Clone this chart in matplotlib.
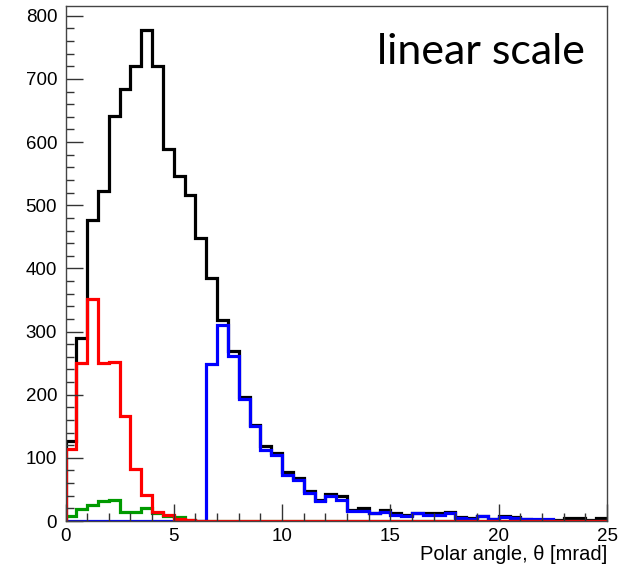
import numpy as np
import matplotlib
matplotlib.use("Agg")
import matplotlib.pyplot as plt
from matplotlib.ticker import MultipleLocator

# ---- data (bin contents, 0.5 mrad bins from 0 to 25 mrad) ----
bin_lo, bin_hi, bin_width = 0.0, 25.0, 0.5

total = [127, 290, 477, 523, 641, 684, 721, 778, 721, 589,
         547, 516, 448, 385, 319, 269, 197, 152, 118, 108,
         78, 68, 48, 33, 42, 40, 17, 20, 13, 17,
         12, 9, 13, 12, 12, 15, 6, 4, 8, 3,
         8, 7, 3, 2, 2, 1, 4, 4, 1, 4]

red = [114, 250, 352, 250, 252, 167, 82, 41, 14, 10,
       3, 1, 0, 0, 0, 0, 0, 0, 0, 0,
       0, 0, 0, 0, 0, 0, 0, 0, 0, 0,
       0, 0, 0, 0, 0, 0, 0, 0, 0, 0,
       0, 0, 0, 0, 0, 0, 0, 0, 0, 0]

green = [8, 19, 26, 31, 33, 15, 15, 21, 13, 8,
         7, 1, 0, 0, 0, 0, 0, 0, 0, 0,
         0, 0, 0, 0, 0, 0, 0, 0, 0, 0,
         0, 0, 0, 0, 0, 0, 0, 0, 0, 0,
         0, 0, 0, 0, 0, 0, 0, 0, 0, 0]

blue = [0, 0, 0, 0, 0, 0, 0, 0, 0, 0,
        0, 0, 0, 248, 311, 261, 193, 150, 113, 105,
        73, 65, 44, 31, 39, 34, 16, 16, 12, 15,
        9, 8, 12, 10, 10, 13, 4, 3, 8, 3,
        6, 4, 3, 3, 3, 0, 0, 0, 0, 0]

x_label = "Polar angle, \u03b8 [mrad]"
annotation = "linear scale"

edges = np.arange(bin_lo, bin_hi + bin_width / 2, bin_width)

plt.rcParams['font.family'] = ['Liberation Sans', 'DejaVu Sans']

fig = plt.figure(figsize=(6.2, 5.67), dpi=100)
ax = fig.add_axes([65.5 / 620, 1 - 521 / 567, (607 - 65.5) / 620, (521 - 5.7) / 567])

lw = 2.3
ax.stairs(total, edges, color='black', lw=lw, baseline=0)
ax.stairs(blue, edges, color='#0000ff', lw=lw, baseline=0)
ax.stairs(green, edges, color='#009a00', lw=lw, baseline=0)
ax.stairs(red, edges, color='#ff0000', lw=lw, baseline=0)

ax.set_xlim(bin_lo, bin_hi)
ax.set_ylim(0, 816)

ax.xaxis.set_major_locator(MultipleLocator(5))
ax.xaxis.set_minor_locator(MultipleLocator(1))
ax.yaxis.set_major_locator(MultipleLocator(100))
ax.yaxis.set_minor_locator(MultipleLocator(20))

ax.tick_params(which='both', direction='in', top=False, right=False,
               color='#333333', width=1)
ax.tick_params(which='major', length=12, labelsize=13.5)
ax.tick_params(which='minor', length=6)
ax.tick_params(axis='y', which='major', pad=6)
ax.tick_params(axis='x', which='major', pad=5)

for s in ax.spines.values():
    s.set_linewidth(1)
    s.set_color('#444444')

ax.set_xlabel(x_label, fontsize=14.5, loc='right', labelpad=0)

fig.text(481 / 620, 1 - 64.3 / 567, annotation, fontsize=31,
         family=['Lato', 'DejaVu Sans'], ha='center', va='baseline')

fig.savefig("out.png", dpi=100, facecolor='white')
